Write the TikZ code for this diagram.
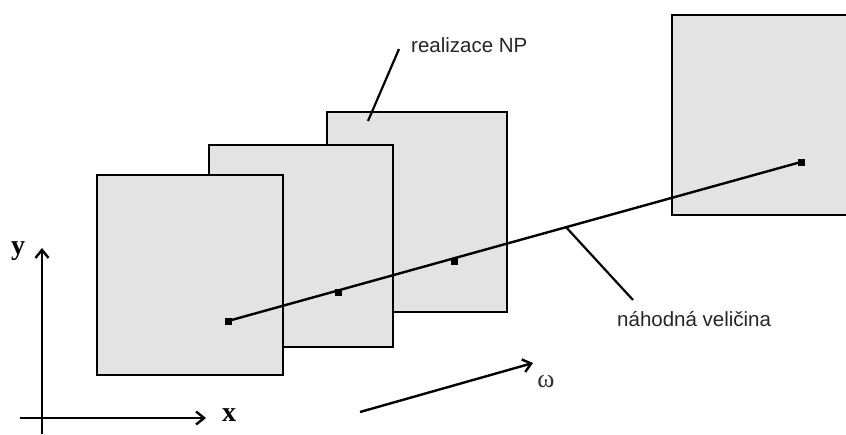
\documentclass[tikz,border=0pt]{standalone}
\usepackage{fontspec}
\setmainfont{Liberation Serif}
\newfontfamily\labfont{Liberation Sans}
\usetikzlibrary{arrows.meta,calc}
\definecolor{panelgray}{HTML}{E3E3E3}
\begin{document}
\begin{tikzpicture}[x=1pt,y=-1pt,
  panel/.style={draw=black, line width=2pt, fill=panelgray, inner sep=0pt},
  pt/.style={fill=black, inner sep=0pt, minimum size=7pt, rectangle},
  conn/.style={line width=2.4pt},
  leader/.style={line width=2.2pt},
  tip/.style={-{Straight Barb[length=8pt,width=13pt,line width=2.4pt]}},
  axis/.style={line width=1.2pt, tip},
  lab/.style={font=\labfont\fontsize{20.5}{24}\selectfont, text=black!85, inner sep=0pt},
  axlab/.style={font=\bfseries\fontsize{28}{32}\selectfont, inner sep=0pt}]
\useasboundingbox (0,0) rectangle (846,434);
\clip (0,0) rectangle (846,434);
% panels, back to front
\node[panel, minimum width=228pt, minimum height=200pt] (s4) at (786,115) {};
\node[panel, minimum width=180pt, minimum height=200pt] (s3) at (417,212) {};
\node[panel, minimum width=184pt, minimum height=202pt] (s2) at (301,246) {};
\node[panel, minimum width=186pt, minimum height=200pt] (s1) at (190,275) {};
% points of the random variable
\node[pt] (p1) at (228,321) {};
\node[pt] (p2) at (338,292) {};
\node[pt] (p3) at (454,261) {};
\node[pt] (p4) at (801,162) {};
\draw[conn] (p1.center) -- (p4.center);
% labels and leaders
\node[lab, anchor=west] (lNP) at (411,45) {realizace NP};
\coordinate (cNP) at (368,121);
\coordinate (tNP) at (399,49);
\draw[leader] (cNP) -- (tNP);
\node[lab, anchor=west] (lNV) at (617,319) {náhodná veličina};
\coordinate (cNV) at ($(p1)!0.59!(p4)$);
\coordinate (tNV) at (633,300);
\draw[leader] (cNV) -- (tNV);
% axes
\coordinate (yb) at (42,434);
\coordinate (yt) at (42,248);
\coordinate (xl) at (20,418);
\coordinate (xr) at (206,418);
\draw[axis] (yb) -- (yt);
\draw[axis] (xl) -- (xr);
\node[axlab] (ly) at (18,251) {y};
\node[axlab] (lx) at (229,415) {x};
% omega arrow
\coordinate (wa) at (360,412);
\coordinate (wb) at (533,363);
\draw[line width=2.4pt, tip] (wa) -- (wb);
\node[font=\fontsize{26}{30}\selectfont, text=black!80, inner sep=0pt] (lw) at (546,382) {ω};
\end{tikzpicture}
\end{document}
